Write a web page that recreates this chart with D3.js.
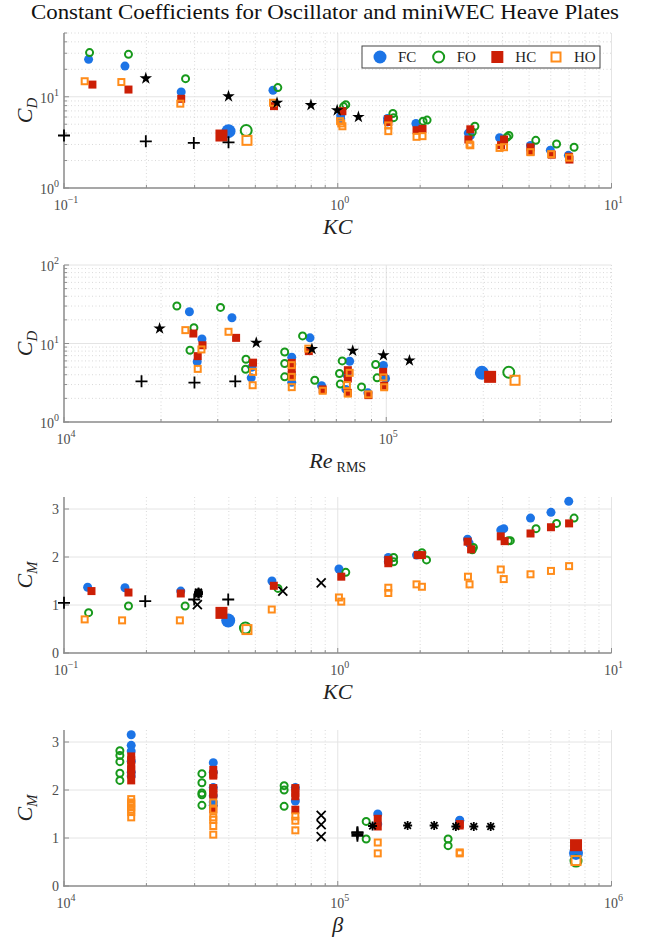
<!DOCTYPE html>
<html>
<head>
<meta charset="utf-8">
<script src="https://d3js.org/d3.v7.min.js"></script>
<style>
  body { margin: 0; background: white; }
  svg { display: block; font-family: "Liberation Serif", serif; }
  .grid-major { stroke: #e4e4e4; stroke-width: 1; }
  .grid-minor { stroke: #cfcfcf; stroke-width: 0.8; stroke-dasharray: 1, 2.5; }
  .axis-line { stroke: #8e8e8e; stroke-width: 1.5; }
  .tick { stroke: #8e8e8e; stroke-width: 1; }
  .tick-label { fill: #4d4d4d; font-size: 14px; }
  .ax-label { fill: #222; font-size: 22px; font-style: italic; }
</style>
</head>
<body>
<svg id="main"></svg>
<script>
// ---------- data ----------
// panel 1: C_D vs KC
const cdKcFC = [[0.123,25.7],[0.167,21.7],[0.268,11.3],[0.58,11.8],[1.025,6.2],[1.025,5.74],[1.52,5.77],[1.52,5.3],[1.93,5.1],[3.0,4.0],[3.05,3.75],[3.9,3.55],[4.02,3.3],[5.06,2.92],[5.98,2.6],[6.96,2.28]]
const cdKcFO = [[0.124,30.5],[0.172,29.2],[0.278,15.8],[0.604,12.6],[1.07,8.2],[1.05,7.8],[1.59,6.55],[1.6,5.9],[2.05,5.4],[2.12,5.55],[3.17,4.75],[3.1,4.1],[4.22,3.76],[4.15,3.6],[5.29,3.33],[6.3,3.04],[7.3,2.8]]
const cdKcHC = [[0.127,13.6],[0.172,12.0],[0.268,9.5],[0.585,7.9],[1.04,6.95],[1.53,5.7],[1.53,5.3],[1.94,4.3],[2.04,4.45],[3.05,4.4],[3.0,3.4],[4.05,3.4],[3.95,2.95],[5.06,2.79],[5.06,2.5],[6.05,2.32],[7.02,2.05],[7.0,2.2]]
const cdKcHO = [[0.119,14.8],[0.162,14.5],[0.266,8.4],[0.58,8.6],[1.02,5.4],[1.03,5.1],[1.04,4.75],[1.53,4.85],[1.53,4.2],[1.94,3.64],[2.04,3.7],[3.03,3.0],[3.05,2.94],[3.9,2.75],[4.05,2.8],[5.06,2.47],[6.02,2.35],[7.0,2.15]]
const cdKcPlus = [[0.1,3.76],[0.199,3.25],[0.298,3.12],[0.399,3.17]]
const cdKcStar = [[0.199,15.9],[0.399,10.1],[0.6,8.6],[0.798,8.1],[0.995,7.1],[1.19,6.0]]
const cdKcBig = [["FC",0.399,4.2],["FO",0.463,4.27],["HC",0.376,3.76],["HO",0.466,3.33]]

// panel 2: C_D vs Re_RMS
const cdReFC = [[24500,25.4],[33200,21.3],[26800,11.4],[25900,5.85],[38100,3.65],[38300,5.0],[50900,6.7],[50900,5.5],[50900,4.0],[50900,3.2],[58000,11.8],[63000,2.9],[77000,5.95],[75500,4.0],[75000,2.6],[87700,2.35],[98000,5.25],[99500,3.58]]
const cdReFO = [[22400,30],[30600,28.8],[25300,15.9],[24600,8.2],[36700,6.3],[36600,4.7],[48400,7.8],[48400,5.56],[48400,3.76],[55000,12.5],[60000,3.4],[73000,6.0],[71600,4.15],[72000,3.04],[83800,2.8],[92700,5.4],[93700,3.65]]
const cdReHC = [[25200,13.4],[34200,11.8],[26900,9.5],[26000,6.9],[38600,5.7],[50900,5.66],[50900,4.8],[50900,3.95],[57500,8.0],[63500,2.6],[76000,4.57],[76000,3.58],[76000,2.35],[88000,2.2],[97800,4.35],[98500,2.9]]
const cdReHO = [[23800,14.8],[32400,14.1],[26700,8.4],[26000,4.75],[38600,4.35],[38500,2.94],[50900,5.3],[50900,3.76],[50900,2.78],[57300,8.6],[63500,2.5],[77000,4.23],[75500,2.95],[76000,2.3],[88000,2.25],[98000,3.7],[98500,2.77]]
const cdRePlus = [[17400,3.3],[25400,3.18],[34000,3.3]]
const cdReStar = [[19800,15.5],[39500,10.2],[58800,8.5],[78700,8.1],[98000,7.1],[118000,6.07]]
const cdReBig = [["FC",198000,4.23],["FO",240000,4.3],["HC",210000,3.76],["HO",251000,3.4]]

// panel 3: C_M vs KC
const cmKcFC = [[0.122,1.37],[0.167,1.36],[0.267,1.29],[0.575,1.5],[1.01,1.75],[1.53,1.99],[1.53,1.9],[1.94,2.04],[2.98,2.37],[3.02,2.29],[3.94,2.56],[4.04,2.59],[5.06,2.81],[6.01,2.93],[6.98,3.16]]
const cmKcFO = [[0.123,0.84],[0.172,0.98],[0.277,0.98],[0.605,1.345],[1.07,1.68],[1.6,1.99],[1.6,1.9],[2.03,2.09],[2.11,1.94],[3.13,2.2],[3.1,2.15],[4.2,2.34],[4.27,2.34],[5.3,2.59],[6.3,2.7],[7.3,2.81]]
const cmKcHC = [[0.126,1.29],[0.172,1.26],[0.267,1.24],[0.584,1.4],[1.03,1.59],[1.53,1.94],[1.53,1.87],[1.96,2.04],[2.03,2.04],[2.98,2.32],[3.07,2.16],[3.94,2.43],[4.07,2.33],[5.06,2.49],[6.01,2.62],[7.0,2.7]]
const cmKcHO = [[0.119,0.7],[0.163,0.68],[0.265,0.68],[0.574,0.906],[1.01,1.157],[1.03,1.07],[1.53,1.36],[1.53,1.25],[1.94,1.43],[2.03,1.38],[2.99,1.59],[3.03,1.43],[3.94,1.74],[4.04,1.54],[5.06,1.64],[6.01,1.71],[7.0,1.81]]
const cmKcPlus = [[0.1,1.045],[0.198,1.08],[0.299,1.115],[0.398,1.115]]
const cmKcCross = [[0.307,1.01],[0.63,1.29],[0.87,1.46]]
const cmKcAster = [[0.31,1.25],[0.31,1.26],[0.31,1.27],[0.31,1.24],[0.31,1.24],[0.31,1.23]]
const cmKcBig = [["FC",0.398,0.676],["FO",0.46,0.52],["HC",0.376,0.836],["HO",0.466,0.488]]

// panel 4: C_M vs beta
const cmBetaFC = [[17600,3.15],[17600,2.93],[17600,2.81],[17600,2.6],[17600,2.37],[17600,2.29],[35100,2.57],[35100,2.37],[35100,2.05],[35100,1.88],[35100,1.75],[35100,1.68],[70000,2.05],[70000,1.77],[140000,1.5],[140000,1.29],[279000,1.37],[279000,1.36]]
const cmBetaFO = [[16000,2.82],[16000,2.72],[16000,2.59],[16000,2.35],[16000,2.2],[31900,2.34],[31900,2.15],[31900,1.94],[31900,1.9],[31900,1.68],[63700,2.09],[63700,2.0],[63700,1.66],[127000,1.345],[127000,0.98],[253000,0.98],[253000,0.84]]
const cmBetaHC = [[17600,2.7],[17600,2.62],[17600,2.5],[17600,2.43],[17600,2.33],[17600,2.2],[35100,2.42],[35100,2.33],[35100,2.3],[35100,2.04],[35100,1.94],[35100,1.9],[35100,1.6],[70000,2.04],[70000,1.94],[70000,1.87],[70000,1.59],[140000,1.4],[140000,1.24],[279000,1.29],[279000,1.26]]
const cmBetaHO = [[17600,1.81],[17600,1.74],[17600,1.71],[17600,1.64],[17600,1.59],[17600,1.54],[17600,1.43],[35100,1.74],[35100,1.59],[35100,1.43],[35100,1.38],[35100,1.25],[35100,1.07],[70000,1.45],[70000,1.36],[70000,1.16],[140000,0.906],[140000,0.68],[279000,0.7],[279000,0.68]]
const cmBetaPlus = [[118000,1.045],[118000,1.08],[118000,1.115],[118000,1.115]]
const cmBetaCross = [[87000,1.47],[87000,1.28],[87000,1.03]]
const cmBetaAster = [[134000,1.25],[180000,1.26],[225000,1.26],[270000,1.24],[314000,1.24],[362000,1.24]]
const cmBetaBig = [["FC",742000,0.69],["FO",742000,0.52],["HC",742000,0.85],["HO",742000,0.53]]

const legendNames = ["FC", "FO", "HC", "HO"]

// ---------- styling ----------
const colors = { FC: "#1c74e6", FO: "#17991b", HC: "#cc1f06", HO: "#ff8c1a" }
const W = 650, H = 939
const L = 64, R = 611.5

const svg = d3.select("#main").attr("width", W).attr("height", H)

svg.append("text")
    .attr("x", W / 2).attr("y", 19)
    .attr("text-anchor", "middle")
    .attr("font-size", 21)
    .attr("textLength", 588)
    .attr("lengthAdjust", "spacingAndGlyphs")
    .attr("fill", "#111")
    .text("Constant Coefficients for Oscillator and miniWEC Heave Plates")

function logTicks(lo, hi) {
    const major = [], minor = []
    for (let e = Math.floor(Math.log10(lo)); e <= Math.ceil(Math.log10(hi)); e++) {
        const p = Math.pow(10, e)
        if (p >= lo * 0.999 && p <= hi * 1.001) major.push(p)
        for (let m = 2; m <= 9; m++) {
            const v = m * p
            if (v > lo && v <= hi * 1.001) minor.push(v)
        }
    }
    return { major, minor }
}

function powText(sel, v) {
    const e = Math.round(Math.log10(v))
    sel.append("tspan").text("10")
    sel.append("tspan").attr("dy", -7).attr("font-size", 10).text(e < 0 ? "\u2212" + (-e) : e)
}

// set up one panel: grid, axes, tick labels
function makePanel(p) {
    const g = svg.append("g")
    const x = d3.scaleLog().domain(p.xDomain).range([L, R])
    const y = (p.yLog ? d3.scaleLog() : d3.scaleLinear()).domain(p.yDomain).range([p.bottom, p.top])

    const xt = logTicks(p.xDomain[0], p.xDomain[1])
    g.selectAll(".gx-minor").data(xt.minor).enter().append("line")
        .attr("class", "grid-minor")
        .attr("x1", d => x(d)).attr("x2", d => x(d))
        .attr("y1", p.top).attr("y2", p.bottom)
    g.selectAll(".gx-major").data(xt.major).enter().append("line")
        .attr("class", "grid-major")
        .attr("x1", d => x(d)).attr("x2", d => x(d))
        .attr("y1", p.top).attr("y2", p.bottom)

    let yMajor, yMinor = []
    if (p.yLog) {
        const yt = logTicks(p.yDomain[0], p.yDomain[1])
        yMajor = yt.major; yMinor = yt.minor
    } else {
        yMajor = p.yTicks
    }
    g.selectAll(".gy-minor").data(yMinor).enter().append("line")
        .attr("class", "grid-minor")
        .attr("x1", L).attr("x2", R)
        .attr("y1", d => y(d)).attr("y2", d => y(d))
    g.selectAll(".gy-major").data(yMajor).enter().append("line")
        .attr("class", "grid-major")
        .attr("x1", L).attr("x2", R)
        .attr("y1", d => y(d)).attr("y2", d => y(d))

    // tick marks pointing inward
    g.selectAll(".tx").data(xt.minor.map(v => [v, 3]).concat(xt.major.map(v => [v, 5]))).enter().append("line")
        .attr("class", "tick")
        .attr("x1", d => x(d[0])).attr("x2", d => x(d[0]))
        .attr("y1", p.bottom).attr("y2", d => p.bottom - d[1])
    g.selectAll(".ty").data(yMinor.map(v => [v, 3]).concat(yMajor.map(v => [v, 5]))).enter().append("line")
        .attr("class", "tick")
        .attr("x1", L).attr("x2", d => L + d[1])
        .attr("y1", d => y(d[0])).attr("y2", d => y(d[0]))

    g.append("line").attr("class", "axis-line")
        .attr("x1", L).attr("x2", L).attr("y1", p.top).attr("y2", p.bottom + 0.75)
    g.append("line").attr("class", "axis-line")
        .attr("x1", L - 0.75).attr("x2", R).attr("y1", p.bottom).attr("y2", p.bottom)

    // tick labels
    g.selectAll(".lx").data(xt.major).enter().append("text")
        .attr("class", "tick-label")
        .attr("x", d => x(d) + 2).attr("y", p.bottom + 22)
        .attr("text-anchor", "middle")
        .each(function (d) { powText(d3.select(this), d) })
    g.selectAll(".ly").data(yMajor).enter().append("text")
        .attr("class", "tick-label")
        .attr("x", L - 5)
        .attr("y", d => y(d) + (p.yLog ? 6 : 5))
        .attr("text-anchor", "end")
        .each(function (d) {
            if (p.yLog) powText(d3.select(this), d)
            else d3.select(this).text(d)
        })

    return { g, x, y }
}

function drawSeries(panel, data, kind, size) {
    const { g, x, y } = panel
    const s = g.append("g")
    if (kind === "FC") {
        s.selectAll("circle").data(data).enter().append("circle")
            .attr("cx", d => x(d[0])).attr("cy", d => y(d[1]))
            .attr("r", size / 2).attr("fill", colors.FC)
    } else if (kind === "FO") {
        s.selectAll("circle").data(data).enter().append("circle")
            .attr("cx", d => x(d[0])).attr("cy", d => y(d[1]))
            .attr("r", size / 2 - 1).attr("fill", "none")
            .attr("stroke", colors.FO).attr("stroke-width", 2)
    } else if (kind === "HC") {
        s.selectAll("rect").data(data).enter().append("rect")
            .attr("x", d => x(d[0]) - size / 2).attr("y", d => y(d[1]) - size / 2)
            .attr("width", size).attr("height", size).attr("fill", colors.HC)
    } else if (kind === "HO") {
        s.selectAll("rect").data(data).enter().append("rect")
            .attr("x", d => x(d[0]) - size / 2 + 1).attr("y", d => y(d[1]) - size / 2 + 1)
            .attr("width", size - 2).attr("height", size - 2).attr("fill", "none")
            .attr("stroke", colors.HO).attr("stroke-width", 2)
    } else if (kind === "star") {
        s.selectAll("path").data(data).enter().append("path")
            .attr("d", d3.symbol(d3.symbolStar, 48))
            .attr("transform", d => "translate(" + x(d[0]) + "," + y(d[1]) + ")")
            .attr("fill", "#000")
    } else {
        const shapes = {
            plus: "M-6,0H6M0,-6V6",
            cross: "M-4.5,-4.5L4.5,4.5M-4.5,4.5L4.5,-4.5",
            aster: "M-4.5,0H4.5M0,-4.5V4.5M-3.3,-3.3L3.3,3.3M-3.3,3.3L3.3,-3.3"
        }
        s.selectAll("path").data(data).enter().append("path")
            .attr("d", shapes[kind])
            .attr("transform", d => "translate(" + x(d[0]) + "," + y(d[1]) + ")")
            .attr("fill", "none").attr("stroke", "#000").attr("stroke-width", 1.8)
    }
}

function drawAll(panel, fc, fo, hc, ho, big, blacks) {
    drawSeries(panel, fc, "FC", 9)
    drawSeries(panel, fo, "FO", 9)
    drawSeries(panel, hc, "HC", 8)
    drawSeries(panel, ho, "HO", 8)
    const bigSize = { FC: 14, FO: 13, HC: 12, HO: 11 }
    legendNames.forEach(n => {
        drawSeries(panel, big.filter(b => b[0] === n).map(b => [b[1], b[2]]), n, bigSize[n])
    })
    blacks.forEach(b => drawSeries(panel, b[0], b[1]))
}

// y-axis label (rotated) with subscript
function yLabel(top, bottom, sub) {
    const t = svg.append("text")
        .attr("class", "ax-label")
        .attr("font-size", 23)
        .attr("transform", "translate(32," + ((top + bottom) / 2) + ") rotate(-90)")
        .attr("text-anchor", "middle")
    t.append("tspan").text("C")
    t.append("tspan").attr("font-size", 15).attr("dy", 5).text(sub)
}

function xLabel(yPos, parts) {
    const t = svg.append("text")
        .attr("class", "ax-label")
        .attr("x", (L + R) / 2).attr("y", yPos)
        .attr("text-anchor", "middle")
    parts(t)
}

// ---------- panel 1 ----------
const p1 = makePanel({ top: 33, bottom: 188, xDomain: [0.1, 10], yDomain: [1, 50], yLog: true })
drawAll(p1, cdKcFC, cdKcFO, cdKcHC, cdKcHO, cdKcBig, [[cdKcPlus, "plus"], [cdKcStar, "star"]])
yLabel(33, 188, "D")
xLabel(234, t => t.text("KC"))

// legend
const lg = svg.append("g")
lg.append("rect").attr("x", 362).attr("y", 46).attr("width", 238).attr("height", 22)
    .attr("fill", "white").attr("stroke", "#444").attr("stroke-width", 1)
const legX = d3.scalePoint().domain(legendNames).range([380, 556])
legendNames.forEach(n => {
    const cx = legX(n), cy = 57
    const item = { g: lg, x: v => v, y: v => v }
    const sz = { FC: 13, FO: 13, HC: 12, HO: 11 }[n]
    drawSeries(item, [[cx, cy]], n, sz)
    lg.append("text").attr("x", cx + 18).attr("y", cy + 5)
        .attr("font-size", 15).attr("fill", "#222").text(n)
})

// ---------- panel 2 ----------
const p2 = makePanel({ top: 265, bottom: 422, xDomain: [1e4, 5e5], yDomain: [1, 100], yLog: true })
drawAll(p2, cdReFC, cdReFO, cdReHC, cdReHO, cdReBig, [[cdRePlus, "plus"], [cdReStar, "star"]])
yLabel(265, 422, "D")
xLabel(468, t => {
    t.append("tspan").text("Re")
    t.append("tspan").attr("font-size", 14).attr("font-style", "normal").attr("dx", 4).attr("dy", 4).text("RMS")
})

// ---------- panel 3 ----------
const p3 = makePanel({ top: 497, bottom: 653, xDomain: [0.1, 10], yDomain: [0, 3.25], yLog: false, yTicks: [0, 1, 2, 3] })
drawAll(p3, cmKcFC, cmKcFO, cmKcHC, cmKcHO, cmKcBig, [[cmKcPlus, "plus"], [cmKcCross, "cross"], [cmKcAster, "aster"]])
yLabel(497, 653, "M")
xLabel(699, t => t.text("KC"))

// ---------- panel 4 ----------
const p4 = makePanel({ top: 730, bottom: 886, xDomain: [1e4, 1e6], yDomain: [0, 3.25], yLog: false, yTicks: [0, 1, 2, 3] })
drawAll(p4, cmBetaFC, cmBetaFO, cmBetaHC, cmBetaHO, cmBetaBig, [[cmBetaCross, "cross"], [cmBetaPlus, "plus"], [cmBetaAster, "aster"]])
yLabel(730, 886, "M")
xLabel(932, t => t.text("\u03b2"))
</script>
</body>
</html>
